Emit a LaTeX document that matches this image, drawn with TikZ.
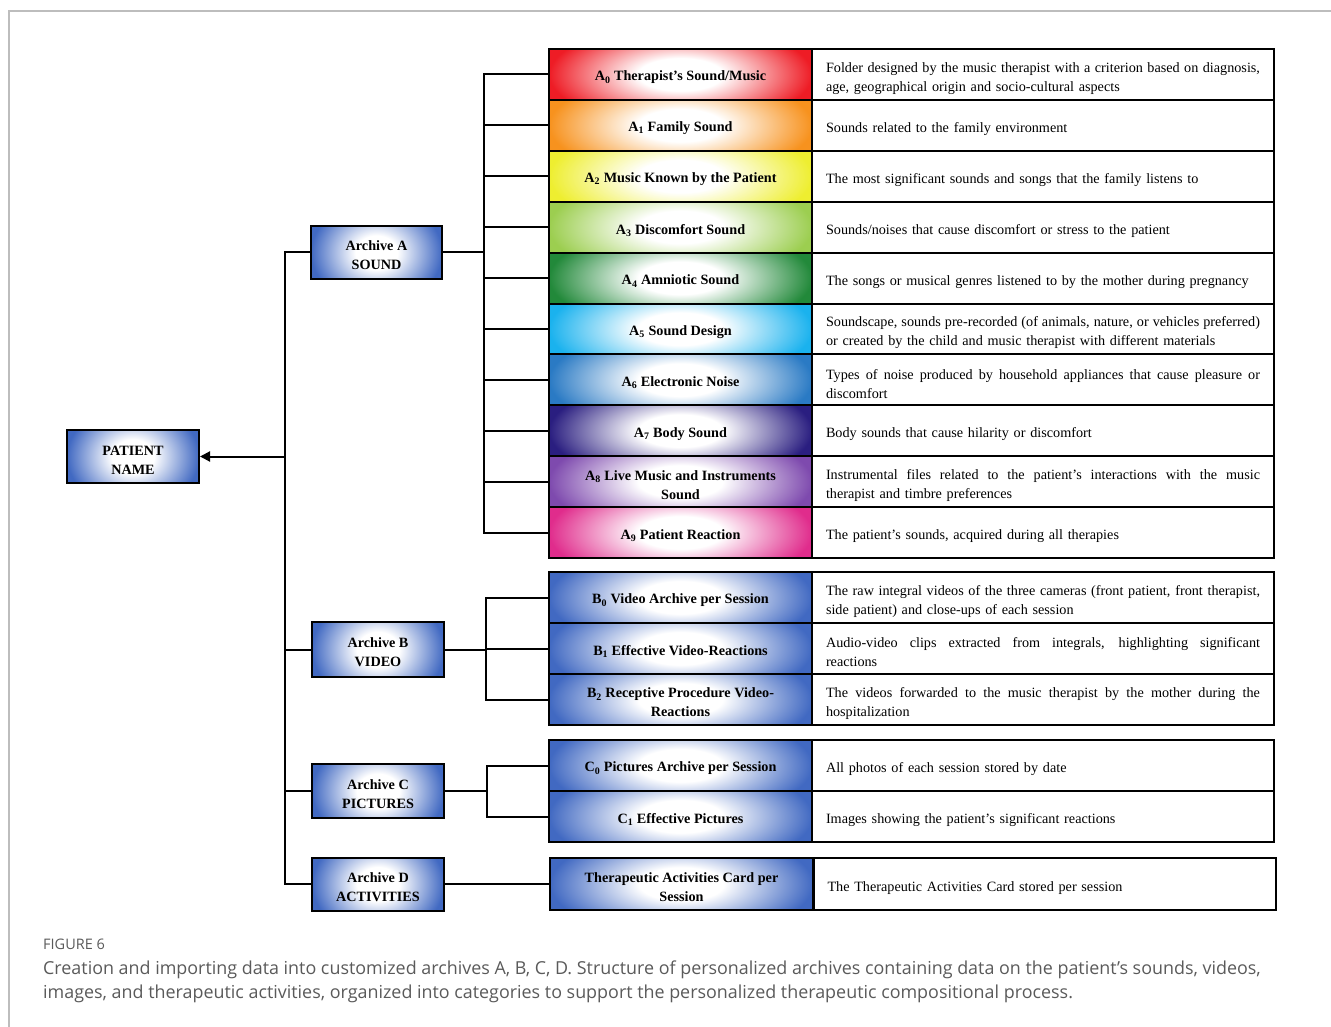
\documentclass[tikz,border=0pt]{standalone}
\usepackage{fontspec}
\setmainfont{Liberation Serif}
\newfontfamily\capfont{Open Sans}
\usetikzlibrary{calc,arrows.meta}

% cell colours
\definecolor{cA0}{HTML}{EE1C25}
\definecolor{cA1}{HTML}{F7921E}
\definecolor{cA2}{HTML}{EEEE30}
\definecolor{cA3}{HTML}{9CCE50}
\definecolor{cA4}{HTML}{22893A}
\definecolor{cA5}{HTML}{1AB2EE}
\definecolor{cA6}{HTML}{2A7AC4}
\definecolor{cA7}{HTML}{2A1E80}
\definecolor{cA8}{HTML}{7E4AAE}
\definecolor{cA9}{HTML}{E02C8C}
\definecolor{cBlue}{HTML}{4169C2}
\definecolor{frameGray}{HTML}{BDBDBD}
\definecolor{capGray}{HTML}{5A5A5A}

% white centre fading into the cell colour towards the edges
% (the box's half width maps to 25bp of the shading)
\colorlet{glowc}{white}
\pgfdeclareradialshading[glowc]{glow}{\pgfpoint{0bp}{0bp}}{color(0bp)=(white); color(8bp)=(white); color(25bp)=(glowc); color(50bp)=(glowc)}

% a justified line of a description
\newcommand{\jline}[1]{{\spaceskip=0.25em plus 0.5em minus 0.12em\makebox[434pt][s]{#1}}}
% tall invisible struts that lower cell text a little
\newcommand{\tstrut}{\rule{0pt}{17.5pt}}
\newcommand{\bstrut}{\rule{0pt}{16pt}}

\tikzset{
  glow/.style={path picture={\colorlet{glowc}{#1}
    \shade[shading=glow]
      ($(path picture bounding box.south west)!-0.5!(path picture bounding box.north west)$)
      rectangle
      ($(path picture bounding box.north east)!-0.5!(path picture bounding box.south east)$);}},
  namecell/.style={draw, line width=2pt, minimum width=263pt, minimum height=51pt,
    inner sep=0pt, align=center, font=\bfseries\fontsize{14.2}{19}\selectfont},
  desccell/.style={draw, line width=2pt, minimum width=462pt, minimum height=51pt,
    inner sep=0pt, text width=434pt, align=left, font=\fontsize{14.2}{19}\selectfont},
  archbox/.style={draw, line width=2pt, minimum width=132pt, minimum height=54pt,
    inner sep=0pt, align=center, glow=cBlue, font=\bfseries\fontsize{14.2}{19}\selectfont},
  link/.style={line width=2pt},
}

\begin{document}
\begin{tikzpicture}[x=1pt,y=-1pt]
\useasboundingbox (0,0) rectangle (1331,1027);

% page frame
\draw[frameGray, line width=1.5pt] (9,1027) -- (9,11) -- (1331,11);

% root
\node[archbox, minimum height=53pt] (pat) at (133,456.5) {\bstrut PATIENT\\NAME};

% archives
\node[archbox, minimum width=131pt, minimum height=53pt] (arA) at (376.5,252.5) {\bstrut Archive A\\SOUND};
\node[archbox, minimum height=55pt] (arB) at (378,649.5) {\bstrut Archive B\\VIDEO};
\node[archbox] (arC) at (378,791) {\bstrut Archive C\\PICTURES};
\node[archbox, minimum height=53pt] (arD) at (378,884) {\bstrut Archive D\\ACTIVITIES};

% archive A rows
\foreach \i/\col/\name in {
  0/cA0/{A\textsubscript{0} Therapist’s Sound/Music},
  1/cA1/{A\textsubscript{1} Family Sound},
  2/cA2/{A\textsubscript{2} Music Known by the Patient},
  3/cA3/{A\textsubscript{3} Discomfort Sound},
  4/cA4/{A\textsubscript{4} Amniotic Sound},
  5/cA5/{A\textsubscript{5} Sound Design},
  6/cA6/{A\textsubscript{6} Electronic Noise},
  7/cA7/{A\textsubscript{7} Body Sound},
  8/cA8/{A\textsubscript{8} Live Music and Instruments\\Sound},
  9/cA9/{A\textsubscript{9} Patient Reaction}}
  \node[namecell, minimum height=50.9pt, glow=\col] (a\i) at (680.5,{74.45+50.9*\i}) {\bstrut\name};

\foreach \i/\txt in {
  0/{\jline{Folder designed by the music therapist with a criterion based on diagnosis,}\\age, geographical origin and socio-cultural aspects},
  1/{Sounds related to the family environment},
  2/{The most significant sounds and songs that the family listens to},
  3/{Sounds/noises that cause discomfort or stress to the patient},
  4/{The songs or musical genres listened to by the mother during pregnancy},
  5/{\jline{Soundscape, sounds pre-recorded (of animals, nature, or vehicles preferred)}\\or created by the child and music therapist with different materials},
  6/{\jline{Types of noise produced by household appliances that cause pleasure or}\\discomfort},
  7/{Body sounds that cause hilarity or discomfort},
  8/{\jline{Instrumental files related to the patient's interactions with the music}\\therapist and timbre preferences},
  9/{The patient’s sounds, acquired during all therapies}}
  \node[desccell, minimum height=50.9pt] (da\i) at (1043,{74.45+50.9*\i}) {\tstrut\txt};

% archive B rows
\foreach \i/\name in {
  0/{B\textsubscript{0} Video Archive per Session},
  1/{B\textsubscript{1} Effective Video-Reactions},
  2/{B\textsubscript{2} Receptive Procedure Video-\\Reactions}}
  \node[namecell, glow=cBlue] (b\i) at (680.5,{597.5+51*\i}) {\bstrut\name};

\foreach \i/\txt in {
  0/{\jline{The raw integral videos of the three cameras (front patient, front therapist,}\\side patient) and close-ups of each session},
  1/{\jline{Audio-video clips extracted from integrals, highlighting significant}\\reactions},
  2/{\jline{The videos forwarded to the music therapist by the mother during the}\\hospitalization}}
  \node[desccell] (db\i) at (1043,{597.5+51*\i}) {\tstrut\txt};

% archive C rows
\node[namecell, glow=cBlue] (c0) at (680.5,765.5) {\bstrut C\textsubscript{0} Pictures Archive per Session};
\node[namecell, glow=cBlue] (c1) at (680.5,816.5) {\bstrut C\textsubscript{1} Effective Pictures};
\node[desccell] (dc0) at (1043,765.5) {\tstrut All photos of each session stored by date};
\node[desccell] (dc1) at (1043,816.5) {\tstrut Images showing the patient's significant reactions};

% archive D row
\node[namecell, minimum height=52pt, glow=cBlue] (d0) at (681.5,884) {\bstrut Therapeutic Activities Card per\\Session};
\node[desccell, minimum height=52pt] (dd0) at (1044.5,884) {\tstrut The Therapeutic Activities Card stored per session};

% trunk from the archives to the patient
\coordinate (trunk) at (285,456.5);
\draw[link] (arA.west) -| (trunk |- arA.west) -- (trunk |- arD.west) -- (arD.west);
\draw[link] (arB.west) -- (trunk |- arB.west);
\draw[link] (arC.west) -- (trunk |- arC.west);
\draw[link, -{Triangle[length=10pt,width=10pt]}] (trunk) -- (pat.east);

% archive A bracket
\coordinate (jA) at (484,252.5);
\draw[link] (arA.east) -- (jA);
\draw[link] (a0.west) -| (jA) |- (a9.west);
\foreach \i in {1,...,8} \draw[link] (a\i.west) -- (a\i.west -| jA);

% archive B bracket
\coordinate (jB) at (486,649.5);
\draw[link] (arB.east) -- (jB);
\draw[link] (b0.west) -| (jB) |- (b2.west);
\draw[link] (b1.west) -- (b1.west -| jB);

% archive C bracket
\coordinate (jC) at (487,791);
\draw[link] (arC.east) -- (jC);
\draw[link] (c0.west) -| (jC) |- (c1.west);

% archive D link
\draw[link] (arD.east) -- (d0.west);

% caption
\node[anchor=base west, inner sep=0pt, text=capGray, font=\capfont\fontsize{14.5}{16}\selectfont] (fig) at (43,949) {FIGURE 6};
\node[anchor=base west, inner sep=0pt, text=capGray, align=left, font=\capfont\fontsize{17.9}{24}\selectfont] (cap) at (43,998)
  {Creation and importing data into customized archives A, B, C, D. Structure of personalized archives containing data on the patient’s sounds, videos,\\
   images, and therapeutic activities, organized into categories to support the personalized therapeutic compositional process.};
\end{tikzpicture}
\end{document}
